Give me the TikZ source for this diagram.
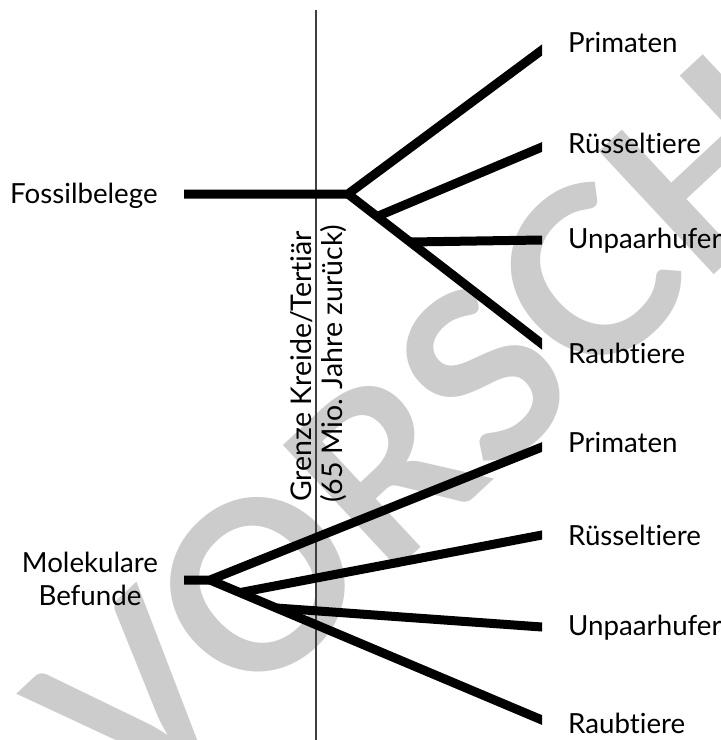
\documentclass[tikz,border=0pt]{standalone}
\usepackage{fontspec}
\setmainfont{Lato}[Ligatures={NoCommon}]
\usetikzlibrary{calc}
\begin{document}
\begin{tikzpicture}[x=1pt,y=-1pt,
  branch/.style={line width=9pt,line cap=butt,line join=miter},
  lbl/.style={anchor=base west,inner sep=0pt,font=\fontsize{27.7}{33}\selectfont},
  leftlbl/.style={inner sep=0pt,font=\fontsize{27.7}{33}\selectfont},
  rotlbl/.style={anchor=base west,inner sep=0pt,rotate=90,font=\fontsize{28.5}{31}\selectfont},
  wm/.style={anchor=base west,inner sep=0pt,rotate=43,text=black!20,font=\fontsize{233}{233}\selectfont\bfseries}]
\useasboundingbox (0,0) rectangle (721,740);
% watermark
\begin{scope}
\clip (0,0) rectangle (721,740);
\node[wm] (wmark) at (132,817) {VORSCHAU};
\end{scope}
% time boundary
\coordinate (vt) at (316,10);
\coordinate (vb) at (316,740);
\draw[line width=1.3pt,black!75] (vt) -- (vb);
\node[rotlbl] (g1) at (311,502) {Grenze Kreide/Tertiär};
\node[rotlbl] (g2) at (342,503) {(65 Mio. Jahre zurück)};
% coordinates upper tree
\coordinate (F0) at (184,194);
\coordinate (J1) at (348,194);
\coordinate (P1) at (542,50);
\coordinate (R1) at (542,147);
\coordinate (U1) at (542,240);
\coordinate (A1) at (542,344);
\coordinate (R1s) at ($(J1)!0.15!(A1)$);
\coordinate (U1s) at ($(J1)!0.32!(A1)$);
% lower tree
\coordinate (M0) at (184,580);
\coordinate (J2) at (210,580);
\coordinate (P2) at (542,447);
\coordinate (R2) at (542,535);
\coordinate (U2) at (542,627);
\coordinate (A2) at (542,720);
\coordinate (R2s) at ($(J2)!0.09!(A2)$);
\coordinate (U2s) at ($(J2)!0.20!(A2)$);
\begin{scope}
\clip (184,0) rectangle (542,740);
\draw[branch] (F0) -- (J1) -- ($(J1)!1.1!(P1)$);
\draw[branch] (J1) -- ($(J1)!1.1!(A1)$);
\draw[branch] (R1s) -- ($(R1s)!1.1!(R1)$);
\draw[branch] (U1s) -- ($(U1s)!1.1!(U1)$);
\draw[branch] (M0) -- (J2) -- ($(J2)!1.1!(P2)$);
\draw[branch] (J2) -- ($(J2)!1.1!(A2)$);
\draw[branch] (R2s) -- ($(R2s)!1.1!(R2)$);
\draw[branch] (U2s) -- ($(U2s)!1.1!(U2)$);
\end{scope}
% labels
\node[leftlbl,anchor=base west] (fos) at (10,203) {Fossilbelege};
\node[leftlbl,align=center,anchor=base] (mol) at (90,605) {Molekulare\\Befunde};
\node[lbl] (lp1) at (568,52) {Primaten};
\node[lbl] (lr1) at (568,153) {Rüsseltiere};
\node[lbl] (lu1) at (568,248) {Unpaarhufer};
\node[lbl] (la1) at (568,363) {Raubtiere};
\node[lbl] (lp2) at (568,452) {Primaten};
\node[lbl] (lr2) at (568,545) {Rüsseltiere};
\node[lbl] (lu2) at (568,635) {Unpaarhufer};
\node[lbl] (la2) at (568,733) {Raubtiere};
\end{tikzpicture}
\end{document}
